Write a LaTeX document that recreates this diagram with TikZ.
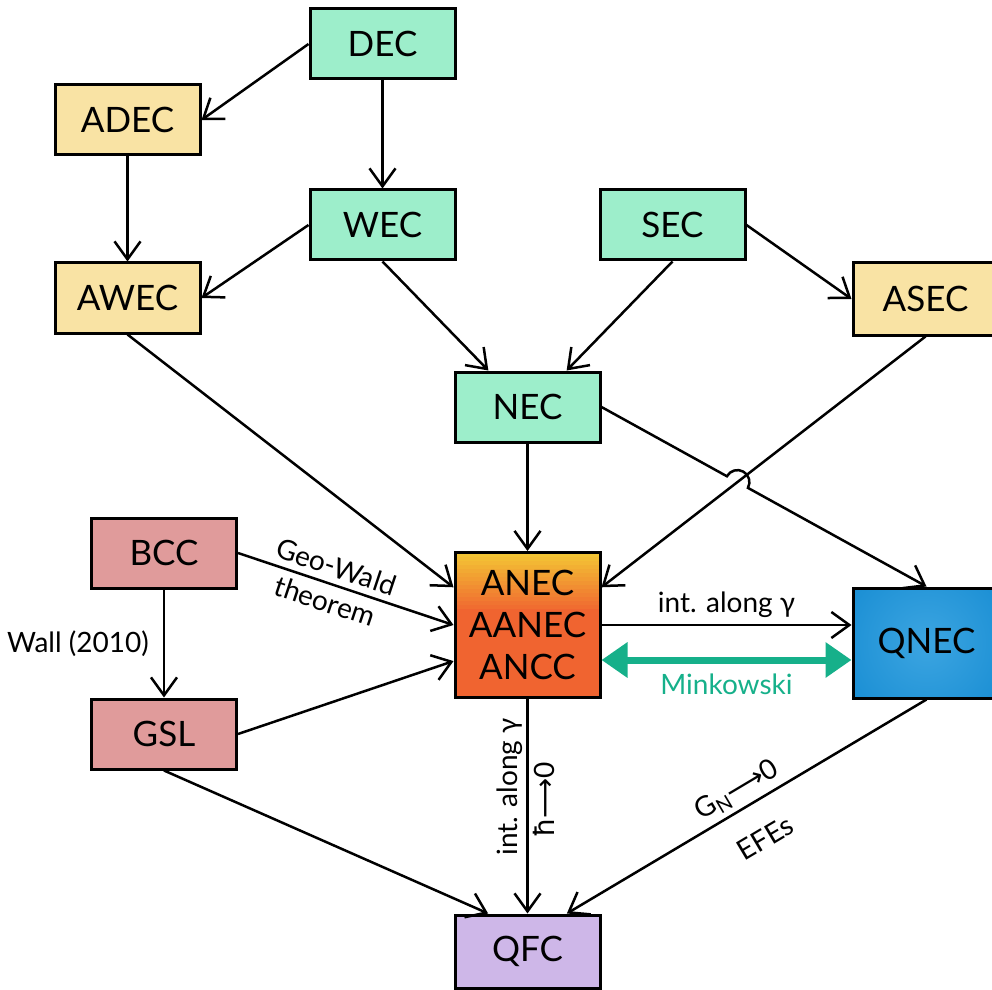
\documentclass[tikz,border=0pt]{standalone}
\usepackage{fontspec}
\setmainfont{Lato}
\newfontfamily\symf{DejaVu Sans}
\usetikzlibrary{arrows.meta,calc,intersections}
\definecolor{mint}{RGB}{157,238,203}
\definecolor{sand}{RGB}{249,227,164}
\definecolor{rose}{RGB}{224,155,155}
\definecolor{lilac}{RGB}{206,183,232}
\definecolor{ancor}{RGB}{240,100,48}
\definecolor{anyel}{RGB}{243,196,52}
\definecolor{qblue}{RGB}{27,143,212}
\definecolor{qlight}{RGB}{60,165,225}
\definecolor{teal}{RGB}{22,176,138}
\begin{document}
\begin{tikzpicture}[x=0.5pt,y=0.5pt,
  box/.style={draw=black, line width=1.5pt, minimum width=72.5pt, minimum height=35pt,
    inner sep=0pt, font=\fontsize{17.5}{21}\selectfont, align=center},
  conn/.style={line width=1.25pt, -{Straight Barb[length=9pt,width=13pt]}},
  lab/.style={font=\fontsize{14}{16}\selectfont, inner sep=2pt},
  mink/.style={line width=3.5pt, draw=teal,
    {Triangle[length=13pt,width=17pt]}-{Triangle[length=13pt,width=17pt]}},
]
\useasboundingbox (0,0) rectangle (992,-990);
\clip (0,0) rectangle (992,-990);

% nodes
\node[box,fill=mint] (DEC) at (382.5,-44) {DEC};
\node[box,fill=sand] (ADEC) at (127.5,-120) {ADEC};
\node[box,fill=mint] (WEC) at (382.5,-225) {WEC};
\node[box,fill=mint] (SEC) at (672.5,-225) {SEC};
\node[box,fill=sand] (AWEC) at (127.5,-298) {AWEC};
\node[box,fill=sand,minimum height=36pt] (ASEC) at (925.5,-299) {ASEC};
\node[box,fill=mint] (NEC) at (527.5,-407) {NEC};
\node[box,fill=ancor,minimum height=72.5pt,
  path picture={
    \foreach \i in {0,...,13}{
      \pgfmathtruncatemacro{\mixv}{100-\i*7}
      \fill[anyel!\mixv!ancor]
        ($(path picture bounding box.north west)+(0,-4*\i)$) rectangle
        ($(path picture bounding box.north east)+(0,-4*\i-4.5)$);
    }}] (ANEC) at (527.5,-625) {ANEC\\AANEC\\ANCC};
\node[box,fill=qblue,minimum width=73.5pt,minimum height=55pt,
  path picture={\shade[inner color=qlight,outer color=qblue]
    (path picture bounding box.center) circle (45pt);}] (QNEC) at (926.5,-643) {QNEC};
\node[box,fill=rose] (BCC) at (164,-553) {BCC};
\node[box,fill=rose] (GSL) at (164,-734) {GSL};
\node[box,fill=lilac,minimum height=36.5pt] (QFC) at (527.5,-951.5) {QFC};

% connectors
\draw[conn] (DEC.west) -- (ADEC.east);
\draw[conn] (DEC.south) -- (WEC.north);
\draw[conn] (ADEC.south) -- (AWEC.north);
\draw[conn] (WEC.west) -- (AWEC.east);
\draw[conn] (WEC.south) -- (NEC.137);
\draw[conn] (SEC.south) -- (NEC.43);
\draw[conn] (SEC.east) -- (ASEC.west);
\draw[conn] (AWEC.south) -- (ANEC.153);
\draw[conn, name path=aa] (ASEC.south) -- (ANEC.27);
\draw[conn] (NEC.south) -- (ANEC.north);
\path[name path=nq] (NEC.east) -- (QNEC.north);
\path[name intersections={of=nq and aa, by=X}];
\draw[conn] let \p1=($(QNEC.north)-(NEC.east)$), \n1={atan2(\y1,\x1)} in
  (NEC.east) -- ($(X)!6pt!(NEC.east)$)
  arc[start angle=\n1+180, end angle=\n1, radius=6pt] -- (QNEC.north);

\draw[conn] (BCC.east) -- node[lab, sloped, pos=0.43, align=center,
  font=\fontsize{14}{18}\selectfont] {Geo-Wald\\theorem} (ANEC.west);
\draw[conn] (BCC.south) -- node[lab, left=5pt] {Wall (2010)} (GSL.north);
\draw[conn] (GSL.east) -- (ANEC.206);
\draw[conn] (GSL.south) -- (QFC.136);
\draw[conn] (ANEC.south) --
  node[lab, rotate=90, above, pos=0.41] {int. along γ}
  node[lab, rotate=90, below, pos=0.47] {{\symf ħ⟶}0} (QFC.north);
\draw[conn] (QNEC.south) -- (QFC.44);
\path (QFC.44) --
  node[lab, sloped, above=1pt, pos=0.5] {G\raisebox{-0.3ex}{\fontsize{10}{10}\selectfont N}{\symf ⟶}0}
  node[lab, sloped, below=11pt, pos=0.5] {EFEs} (QNEC.south);
\draw[conn] (ANEC.east) -- node[lab, above=1pt] {int. along γ} (ANEC.east -| QNEC.west);
\draw[mink] ([yshift=-17.5pt]ANEC.east) --
  node[lab, below=3pt, text=teal] {Minkowski} ([yshift=-17.5pt]ANEC.east -| QNEC.west);
\end{tikzpicture}
\end{document}
